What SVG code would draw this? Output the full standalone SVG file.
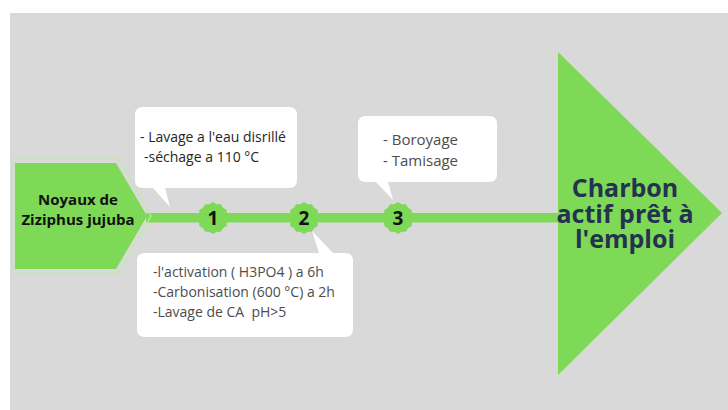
<svg xmlns="http://www.w3.org/2000/svg" width="728" height="410" viewBox="0 0 728 410">
<defs>
<style>
.bg{fill:#d9d9d9}
.green{fill:#7ed957}
.callout{fill:#ffffff}
.t1{font-family:"Open Sans","Liberation Sans",sans-serif;font-size:14px;fill:#262626}
.t2{font-family:"Open Sans","Liberation Sans",sans-serif;font-size:14px;fill:#4d4d4d}
.t3{font-family:"Open Sans","Liberation Sans",sans-serif;font-size:15px;fill:#4d4d4d}
.num{font-family:"Open Sans","Liberation Sans",sans-serif;font-size:19px;font-weight:bold;fill:#111111;text-anchor:middle}
.start{font-family:"Open Sans","Liberation Sans",sans-serif;font-size:15px;font-weight:bold;fill:#111111;text-anchor:middle}
.end{font-family:"Open Sans","Liberation Sans",sans-serif;font-size:25px;font-weight:bold;fill:#24324f;text-anchor:middle}
</style>
<polygon id="badge" points="15,0 13.04,3.49 12.99,7.5 9.55,9.55 7.5,12.99 3.49,13.04 0,15 -3.49,13.04 -7.5,12.99 -9.55,9.55 -12.99,7.5 -13.04,3.49 -15,0 -13.04,-3.49 -12.99,-7.5 -9.55,-9.55 -7.5,-12.99 -3.49,-13.04 0,-15 3.49,-13.04 7.5,-12.99 9.55,-9.55 12.99,-7.5 13.04,-3.49" fill="#7ed957" stroke="#7ed957" stroke-width="1.5" stroke-linejoin="round"/>
</defs>
<rect class="bg" x="10" y="13" width="718" height="397"/>

<g id="connectors">
<rect class="green" x="146" y="213" width="416" height="9.5"/>
</g>

<g id="node-start">
<polygon points="12,159 119,159 151,216 119,273 12,273" fill="none" stroke="#b9eea6" stroke-width="1.2"/>
<polygon class="green" points="15,163 116,163 147,216 116,269 15,269"/>
<text class="start" x="78" y="205">Noyaux de</text>
<text class="start" x="78" y="225">Ziziphus jujuba</text>
</g>

<g id="node-end">
<polygon class="green" points="558,52 722,213 558,375"/>
<text class="end" x="625" y="197">Charbon</text>
<text class="end" x="625" y="223">actif prêt à</text>
<text class="end" x="625" y="248">l'emploi</text>
</g>

<g id="step-1">
<use href="#badge" x="213" y="218"/>
<text class="num" x="213" y="225">1</text>
</g>
<g id="step-2">
<use href="#badge" x="304" y="218"/>
<text class="num" x="304" y="225">2</text>
</g>
<g id="step-3">
<use href="#badge" x="398" y="218"/>
<text class="num" x="398" y="225">3</text>
</g>

<g id="callout-1">
<path class="callout" d="M143,107 H289 Q297,107 297,115 V180 Q297,188 289,188 H165 L170,207 L153,188 H143 Q135,188 135,180 V115 Q135,107 143,107 Z"/>
<text class="t1" x="140" y="142">- Lavage a l'eau disrillé</text>
<text class="t1" x="144" y="162">-séchage a 110 °C</text>
</g>

<g id="callout-2">
<path class="callout" d="M145,253 H319 L312,231 L333,253 H345 Q353,253 353,261 V329 Q353,337 345,337 H145 Q137,337 137,329 V261 Q137,253 145,253 Z"/>
<text class="t2" x="153" y="277">-l'activation ( H3PO4 ) a 6h</text>
<text class="t2" x="153" y="297">-Carbonisation (600 °C) a 2h</text>
<text class="t2" x="153" y="317">-Lavage de CA&#160; pH&gt;5</text>
</g>

<g id="callout-3">
<path class="callout" d="M366,116 H489 Q497,116 497,124 V174 Q497,182 489,182 H388 L393,200 L376,182 H366 Q358,182 358,174 V124 Q358,116 366,116 Z"/>
<text class="t3" x="383" y="145">- Boroyage</text>
<text class="t3" x="383" y="166">- Tamisage</text>
</g>
</svg>
